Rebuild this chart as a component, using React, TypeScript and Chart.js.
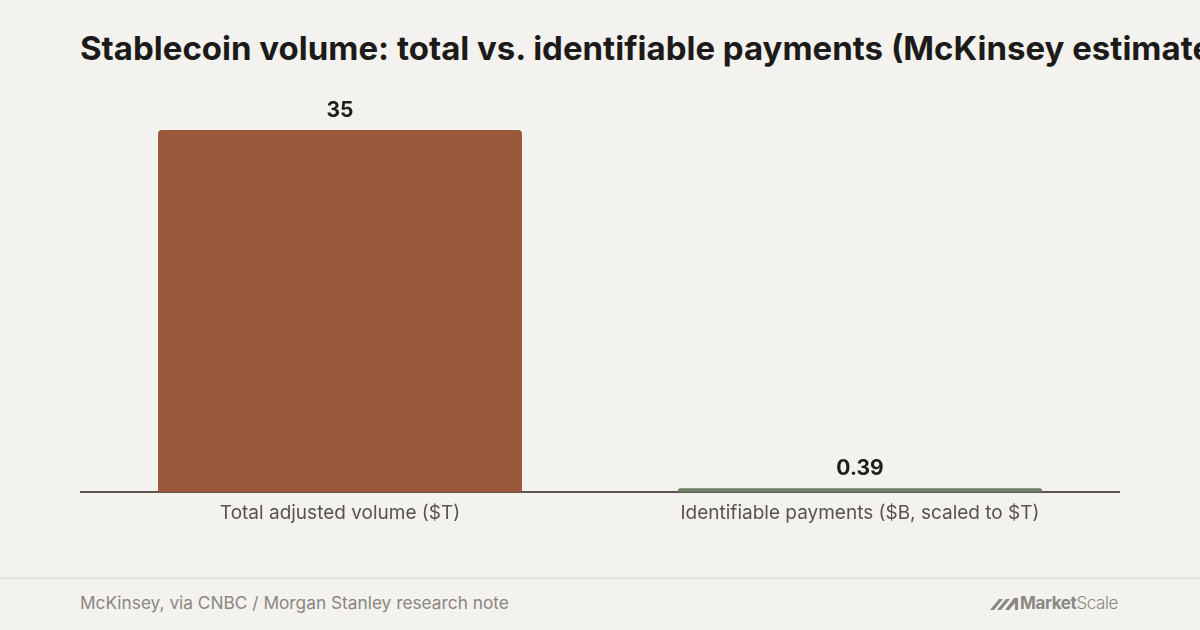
import React, { useEffect, useRef } from "react";
import { Chart, registerables } from "chart.js";

Chart.register(...registerables);

const TITLE = "Stablecoin volume: total vs. identifiable payments (McKinsey estimates)";
const SOURCE = "McKinsey, via CNBC / Morgan Stanley research note";
const categories = ["Total adjusted volume ($T)", "Identifiable payments ($B, scaled to $T)"];
const values = [35, 0.39];
const valueLabels = ["35", "0.39"];
const barColors = ["#99583b", "#6f7e67"];

const BG = "#f4f2ee";

const valueLabelPlugin = {
  id: "valueLabels",
  afterDatasetsDraw(chart: any) {
    const ctx = chart.ctx;
    const meta = chart.getDatasetMeta(0);
    ctx.save();
    ctx.font = "bold 21px Inter";
    ctx.fillStyle = "#1f1e1c";
    ctx.textAlign = "center";
    ctx.textBaseline = "bottom";
    meta.data.forEach((bar: any, i: number) => {
      ctx.fillText(valueLabels[i], bar.x, bar.y - 9);
    });
    ctx.restore();
  },
};

export default function App() {
  const ref = useRef<HTMLCanvasElement | null>(null);

  useEffect(() => {
    document.body.style.margin = "0";
    const chart = new Chart(ref.current!, {
      type: "bar",
      data: {
        labels: categories,
        datasets: [
          {
            data: values,
            backgroundColor: barColors,
            borderRadius: { topLeft: 4, topRight: 4, bottomLeft: 0, bottomRight: 0 },
            borderSkipped: false,
            barPercentage: 0.7,
            categoryPercentage: 1,
          },
        ],
      },
      options: {
        animation: false,
        responsive: false,
        maintainAspectRatio: false,
        layout: { padding: { top: 50, left: 0, right: 0, bottom: 0 } },
        plugins: { legend: { display: false }, tooltip: { enabled: false } },
        scales: {
          x: {
            z: 1,
            grid: { display: false, drawTicks: false },
            border: { display: true, color: "#5b554e", width: 2 },
            ticks: {
              color: "#57524c",
              font: { family: "Inter", size: 19, lineHeight: 1.2 },
              padding: 10,
            },
          },
          y: { display: false, min: 0, max: 35 },
        },
      },
      plugins: [valueLabelPlugin],
    });
    return () => chart.destroy();
  }, []);

  return (
    <div
      style={{
        position: "relative",
        width: 1200,
        height: 630,
        background: BG,
        overflow: "hidden",
        fontFamily: "Inter, sans-serif",
      }}
    >
      <div
        style={{
          position: "absolute",
          left: 80,
          top: 27,
          whiteSpace: "nowrap",
          fontSize: 33,
          fontWeight: 700,
          letterSpacing: 0,
          color: "#1c1b19",
          lineHeight: "42px",
        }}
      >
        {TITLE}
      </div>
      <canvas
        ref={ref}
        width={1040}
        height={455}
        style={{ position: "absolute", left: 80, top: 80, width: 1040, height: 455 }}
      />
      <div
        style={{
          position: "absolute",
          left: 0,
          top: 577,
          width: 1200,
          height: 2,
          background: "#e6e3de",
        }}
      />
      <div
        style={{
          position: "absolute",
          left: 80,
          top: 592,
          fontSize: 17.3,
          color: "#8a8680",
          lineHeight: "22px",
          whiteSpace: "nowrap",
        }}
      >
        {SOURCE}
      </div>
      <div
        style={{
          position: "absolute",
          right: 82,
          top: 593,
          display: "flex",
          alignItems: "center",
          color: "#8a8884",
          fontSize: 17,
          lineHeight: "20px",
          letterSpacing: -0.4,
        }}
      >
        <svg width="29" height="14" viewBox="0 0 29 14" style={{ marginRight: 1 }}>
          <polygon points="0,14 9,3 13,3 4,14" fill="#8a8884" />
          <polygon points="7,14 16,3 20,3 11,14" fill="#8a8884" />
          <polygon points="15,14 24,2 28,2 28,14 25,14 25,7 19,14" fill="#8a8884" />
        </svg>
        <span style={{ fontWeight: 700 }}>Market</span>
        <span style={{ fontWeight: 300 }}>Scale</span>
      </div>
    </div>
  );
}
